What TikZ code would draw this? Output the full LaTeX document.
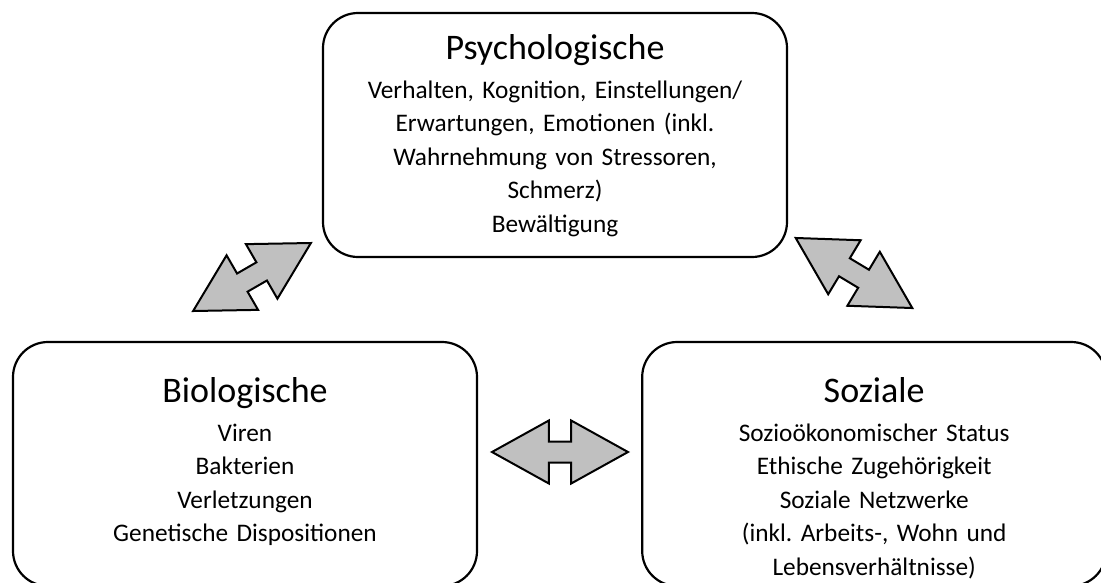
\documentclass[tikz,border=0pt]{standalone}
\usepackage{fontspec}
\setmainfont{Carlito}
\usetikzlibrary{positioning,shapes.arrows}
\definecolor{arrowgray}{RGB}{192,192,192}
\newcommand{\boxhead}[1]{{\fontsize{36}{38}\selectfont #1}\\[5pt]}
\frenchspacing

\begin{document}
\begin{tikzpicture}[x=1pt,y=-1pt,
  box/.style={draw,line width=2.2pt,rounded corners=35pt,minimum width=464pt,minimum height=244pt},
  boxtext/.style={anchor=base,text width=450pt,align=center,inner sep=0pt,font=\fontsize{25.3}{33.5}\selectfont},
  darrow/.style={double arrow,draw,fill=arrowgray,line width=2pt,inner xsep=0pt,inner ysep=9.5pt,
    minimum height=136pt,double arrow head extend=21pt,double arrow tip angle=58}]
  \useasboundingbox (0,0) rectangle (1101,582);
  % the three boxes
  \node[box](psy) at (555,135){};
  \node[box](bio) at (245,464){};
  \node[box,right=163pt of bio](soc){};
  \node[boxtext](psytext) at ([yshift=-48pt]psy.north)
    {\boxhead{Psychologische}Verhalten, Kognition, Einstellungen/\\Erwartungen, Emotionen (inkl.\\Wahrnehmung von Stressoren,\\Schmerz)\\Bewältigung};
  \node[boxtext](biotext) at ([yshift=-62pt]bio.north)
    {\boxhead{Biologische}Viren\\Bakterien\\Verletzungen\\Genetische Dispositionen};
  \node[boxtext](soctext) at ([yshift=-62pt]soc.north)
    {\boxhead{Soziale}Sozioökonomischer Status\\Ethische Zugehörigkeit\\Soziale Netzwerke\\(inkl. Arbeits-, Wohn und\\Lebensverhältnisse)};
  % block arrows in between
  \node[darrow,rotate=30](bioarrow) at (252,277){};
  \node[darrow,rotate=-31](socarrow) at (854,273){};
  \node[darrow](midarrow) at (560,452){};
\end{tikzpicture}
\end{document}
